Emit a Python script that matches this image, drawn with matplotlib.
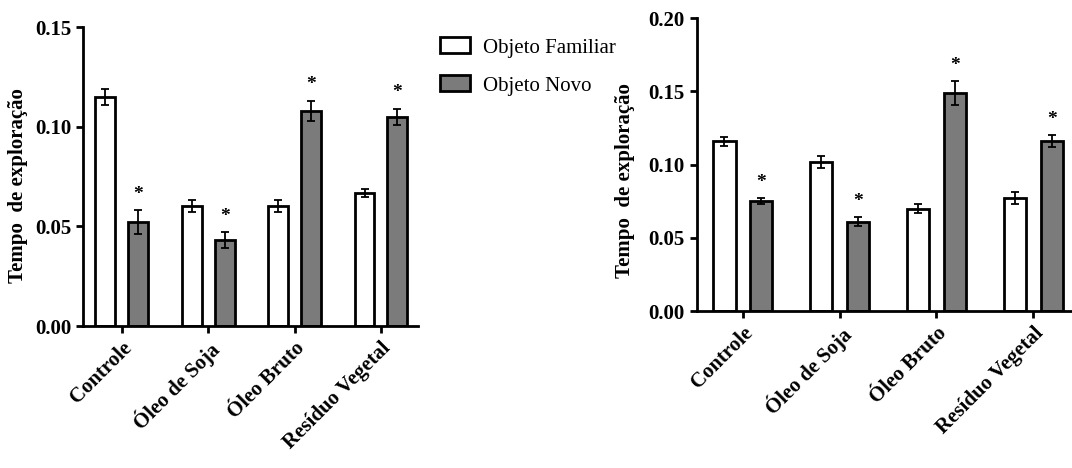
import matplotlib.pyplot as plt
import numpy as np

plt.rcParams['font.family'] = ['Liberation Serif', 'DejaVu Serif']
plt.rcParams['font.weight'] = 'bold'

categorias = ["Controle", "Óleo de Soja", "Óleo Bruto", "Resíduo Vegetal"]

# painel esquerdo
fam_a = [0.115, 0.060, 0.060, 0.067]
fam_a_err = [0.004, 0.003, 0.003, 0.002]
novo_a = [0.052, 0.043, 0.108, 0.105]
novo_a_err = [0.006, 0.004, 0.005, 0.004]
sig_a = [True, True, True, True]

# painel direito
fam_b = [0.116, 0.102, 0.070, 0.077]
fam_b_err = [0.003, 0.004, 0.003, 0.004]
novo_b = [0.075, 0.061, 0.149, 0.116]
novo_b_err = [0.002, 0.003, 0.008, 0.004]
sig_b = [True, True, True, True]

cinza = "#7b7b7b"

fig = plt.figure(figsize=(10.72, 4.68), dpi=100)
ax1 = fig.add_axes([0.0774, 0.3034, 0.3126, 0.6386])
ax2 = fig.add_axes([0.650, 0.335, 0.350, 0.6265])

def painel(ax, fam, fam_err, novo, novo_err, sig, ymax, yticks, xlim, w):
    x = np.arange(len(categorias))
    kw = dict(edgecolor="black", linewidth=2, width=w,
              error_kw=dict(elinewidth=1.3, capsize=3, capthick=1.3, ecolor="black"))
    ax.bar(x - 0.19, fam, yerr=fam_err, color="white", label="Objeto Familiar", **kw)
    ax.bar(x + 0.19, novo, yerr=novo_err, color=cinza, label="Objeto Novo", **kw)
    for i in range(len(x)):
        if sig[i]:
            ax.text(x[i] + 0.19, novo[i] + novo_err[i] + ymax * 0.025, "*",
                    ha="center", va="bottom", fontsize=14, fontweight="bold")
    ax.set_ylim(0, ymax)
    ax.set_xlim(*xlim)
    ax.set_yticks(yticks)
    ax.set_yticklabels(["%.2f" % t for t in yticks])
    ax.set_xticks(x)
    ax.set_xticklabels(categorias, rotation=45, ha="right", rotation_mode="anchor")
    ax.spines["top"].set_visible(False)
    ax.spines["right"].set_visible(False)
    ax.spines["left"].set_linewidth(2)
    ax.spines["bottom"].set_linewidth(2)
    ax.tick_params(axis="both", width=2, length=5, labelsize=15, direction="out")
    ax.set_ylabel("Tempo  de exploração", fontsize=15, fontweight="bold")

painel(ax1, fam_a, fam_a_err, novo_a, novo_a_err, sig_a, 0.15,
       [0.0, 0.05, 0.10, 0.15], (-0.45, 3.43), 0.23)
painel(ax2, fam_b, fam_b_err, novo_b, novo_b_err, sig_b, 0.20,
       [0.0, 0.05, 0.10, 0.15, 0.20], (-0.476, 3.40), 0.23)

ax1.yaxis.set_label_coords(-0.164, 0.47)
ax2.yaxis.set_label_coords(-0.165, 0.445)

h, l = ax1.get_legend_handles_labels()
fig.legend(h, l, loc="upper left", bbox_to_anchor=(0.393, 0.96), frameon=False,
           handlelength=1.45, handleheight=0.8, labelspacing=0.85, handletextpad=0.6,
           prop={"weight": "normal", "size": 15})

fig.savefig("out.png", dpi=100)
